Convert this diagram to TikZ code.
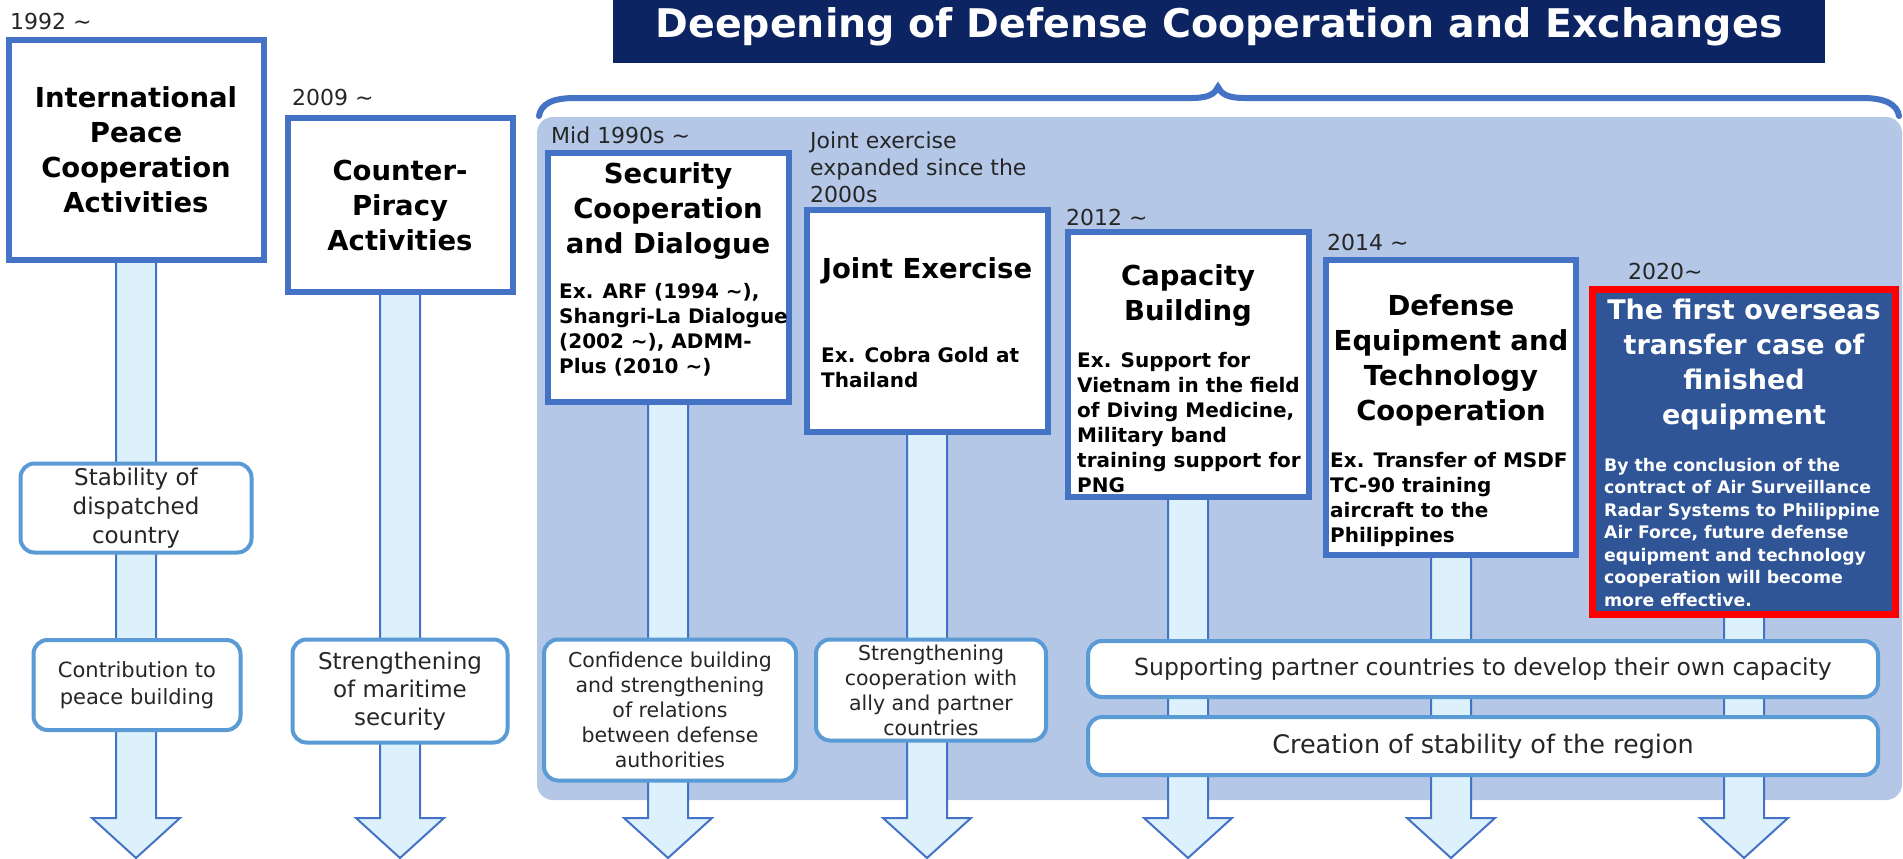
\documentclass[tikz,border=0pt]{standalone}
\usepackage{fontspec}
\setmainfont{DejaVu Sans}
\usetikzlibrary{positioning}
\definecolor{boxblue}{HTML}{4472C4}
\definecolor{panelblue}{HTML}{B4C7E7}
\definecolor{titlenavy}{HTML}{0C2461}
\definecolor{redfill}{HTML}{2F5597}
\definecolor{stemfill}{HTML}{DCF1FC}
\definecolor{resblue}{HTML}{5B9BD5}
\pgfdeclarelayer{back}
\pgfdeclarelayer{mid}
\pgfsetlayers{back,mid,main}

\begin{document}
\begin{tikzpicture}[x=1pt,y=-1pt,
	act node/.style={draw=boxblue,line width=6pt,fill=white,inner sep=0pt},
	head node/.style={font=\bfseries\fontsize{27.5}{35}\selectfont,align=center,inner sep=0pt},
	ex node/.style={font=\bfseries\fontsize{20}{25}\selectfont,align=left,anchor=north west,inner sep=0pt},
	year node/.style={font=\fontsize{22}{27}\selectfont,align=left,anchor=north west,inner sep=0pt,text=black!85},
	result node/.style={draw=resblue,line width=4pt,fill=white,rounded corners=14pt,align=center,inner sep=0pt,text=black!85},
	stem arrow/.style={fill=stemfill,draw=boxblue,line width=2pt}]
	
	\useasboundingbox (0,0) rectangle (1903,859);
	
	\node[fill=titlenavy,minimum width=1212pt,minimum height=72pt,inner sep=0pt,text=white,
	font=\bfseries\fontsize{39.5}{46}\selectfont] (title) at (1219,27) {Deepening of Defense Cooperation and Exchanges};
	
	% activities
	\node[act node,minimum width=255pt,minimum height=219pt,font=\bfseries\fontsize{27.5}{35}\selectfont,align=center] (act1) at (136,150) {International\\Peace\\Cooperation\\Activities};
	\node[act node,minimum width=225pt,minimum height=174pt,font=\bfseries\fontsize{27.5}{35}\selectfont,align=center] (act2) at (400,205) {Counter-\\Piracy\\Activities};
	\node[act node,minimum width=241pt,minimum height=249pt] (act3) at (668,277) {};
	\node[act node,minimum width=241pt,minimum height=222pt] (act4) at (927,321) {};
	\node[act node,minimum width=241pt,minimum height=265pt] (act5) at (1188,364) {};
	\node[act node,minimum width=250pt,minimum height=295pt] (act6) at (1451,407) {};
	\node[act node,draw=red,fill=redfill,line width=7pt,minimum width=303pt,minimum height=325pt] (act7) at (1744,452) {};
	
	\node[head node,below=13pt of act3.north] (head3) {Security\\Cooperation\\and Dialogue};
	\node[head node,below=50pt of act4.north] (head4) {Joint Exercise};
	\node[head node,below=36pt of act5.north] (head5) {Capacity\\Building};
	\node[head node,below=38pt of act6.north] (head6) {Defense\\Equipment and\\Technology\\Cooperation};
	\node[head node,text=white,font=\bfseries\fontsize{27}{35}\selectfont,below=12.5pt of act7.north] (head7) {The first overseas\\transfer case of\\finished\\equipment};
	
	\node[ex node] (ex3) at (559,283) {Ex. ARF (1994 \textasciitilde),\\Shangri-La Dialogue\\(2002 \textasciitilde), ADMM-\\Plus (2010 \textasciitilde)};
	\node[ex node] (ex4) at (821,347) {Ex. Cobra Gold at\\Thailand};
	\node[ex node] (ex5) at (1077,352) {Ex. Support for\\Vietnam in the field\\of Diving Medicine,\\Military band\\training support for\\PNG};
	\node[ex node] (ex6) at (1330,452) {Ex. Transfer of MSDF\\TC-90 training\\aircraft to the\\Philippines};
	\node[ex node,text=white,font=\bfseries\fontsize{17.3}{22.5}\selectfont] (ex7) at (1604,458) {By the conclusion of the\\contract of Air Surveillance\\Radar Systems to Philippine\\Air Force, future defense\\equipment and technology\\cooperation will become\\more effective.};
	
	% years
	\node[year node] (y1) at (10,13) {1992 \textasciitilde};
	\node[year node] (y2) at (292,89) {2009 \textasciitilde};
	\node[year node] (y3) at (551,127) {Mid 1990s \textasciitilde};
	\node[year node] (y4) at (810,132) {Joint exercise\\expanded since the\\2000s};
	\node[year node] (y5) at (1066,209) {2012 \textasciitilde};
	\node[year node] (y6) at (1327,234) {2014 \textasciitilde};
	\node[year node] (y7) at (1628,263) {2020\textasciitilde};
	
	% results
	\node[result node,minimum width=231pt,minimum height=89pt,font=\fontsize{23}{29}\selectfont] (res1) at (136,508) {Stability of\\dispatched\\country};
	\node[result node,minimum width=207pt,minimum height=90pt,font=\fontsize{21}{27}\selectfont] (res2) at (137,685) {Contribution to\\peace building};
	\node[result node,minimum width=215pt,minimum height=103pt,font=\fontsize{23}{28}\selectfont] (res3) at (400,691) {Strengthening\\of maritime\\security};
	\node[result node,minimum width=252pt,minimum height=141pt,font=\fontsize{20.5}{25}\selectfont] (res4) at (670,710) {Confidence building\\and strengthening\\of relations\\between defense\\authorities};
	\node[result node,minimum width=230pt,minimum height=101pt,font=\fontsize{20.5}{25}\selectfont] (res5) at (931,690) {Strengthening\\cooperation with\\ally and partner\\countries};
	\node[result node,minimum width=790pt,minimum height=56pt,font=\fontsize{23.5}{28}\selectfont] (res6) at (1483,669) {Supporting partner countries to develop their own capacity};
	\node[result node,minimum width=790pt,minimum height=58pt,font=\fontsize{25.5}{30}\selectfont] (res7) at (1483,746) {Creation of stability of the region};
	
	\draw[boxblue,line width=6pt,line cap=round] (539,116) .. controls (541,104) and (552,98) .. (575,98) -- (1192,98) .. controls (1208,98) and (1215,94) .. (1218,87) .. controls (1221,94) and (1228,98) .. (1244,98) -- (1862,98) .. controls (1885,98) and (1897,104) .. (1899,116);
	
	\begin{pgfonlayer}{mid}
		\foreach \n in {1,...,7}{
			\coordinate (tip\n) at (act\n.south |- 0,858);
			\draw[stem arrow] ([xshift=-20pt,yshift=8pt]act\n.south) -- ([xshift=-20pt,yshift=40pt]tip\n) -- ([xshift=-44pt,yshift=40pt]tip\n) -- (tip\n) -- ([xshift=44pt,yshift=40pt]tip\n) -- ([xshift=20pt,yshift=40pt]tip\n) -- ([xshift=20pt,yshift=8pt]act\n.south) -- cycle;
		}
	\end{pgfonlayer}
	
	\begin{pgfonlayer}{back}
		\node[fill=panelblue,rounded corners=16pt,minimum width=1365pt,minimum height=683pt,inner sep=0pt] (panel) at (1219.5,458.5) {};
	\end{pgfonlayer}
\end{tikzpicture}
\end{document}
